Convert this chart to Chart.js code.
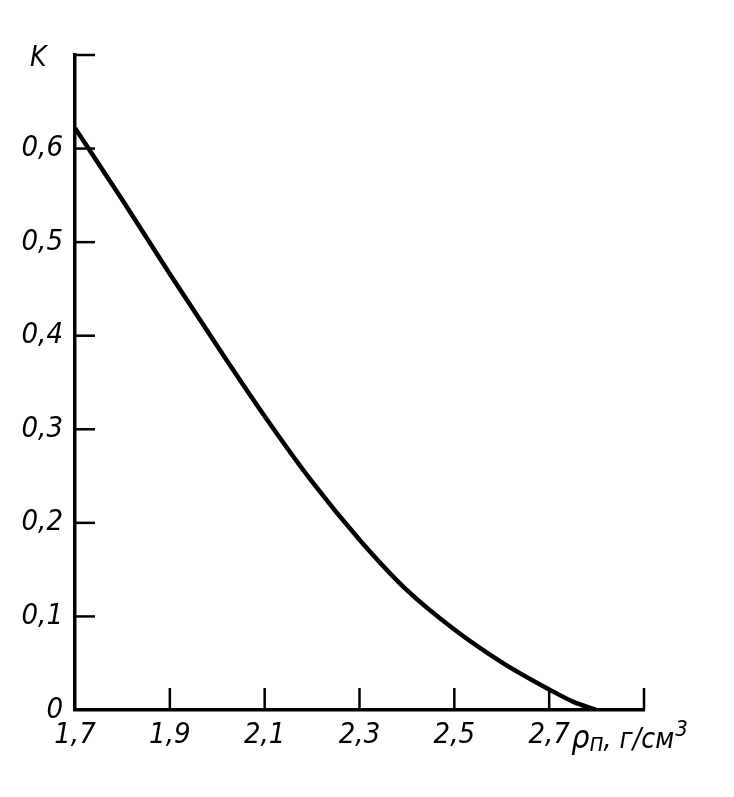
<!DOCTYPE html>
<html>
<head>
<meta charset="utf-8">
<script src="https://cdn.jsdelivr.net/npm/chart.js@4.4.0/dist/chart.umd.min.js"></script>
<style>
  body { margin: 0; background: #fff; }
  canvas { display: block; }
</style>
</head>
<body>
<canvas id="myChart" width="734" height="797"></canvas>
<script>
// данные
const density = [1.7, 1.8, 1.9, 2.0, 2.1, 2.2, 2.3, 2.4, 2.5, 2.6, 2.7, 2.75, 2.8];
const kValues = [0.622, 0.545, 0.466, 0.389, 0.314, 0.244, 0.182, 0.128, 0.086, 0.051, 0.022, 0.009, 0.0];
const xTicks = [1.7, 1.9, 2.1, 2.3, 2.5, 2.7, 2.9];
const yTicks = [0, 0.1, 0.2, 0.3, 0.4, 0.5, 0.6, 0.7];

const FONT = "'Liberation Sans Narrow', 'DejaVu Sans Condensed', 'DejaVu Sans', sans-serif";
const tickFont = { family: FONT, size: 29, style: 'italic' };

const points = density.map((d, i) => ({ x: d, y: kValues[i] }));

// засечки внутрь и подписи осей
const axisExtras = {
  id: 'axisExtras',
  afterDraw(chart) {
    const { ctx, scales: { x, y } } = chart;
    ctx.save();
    ctx.strokeStyle = '#000';
    ctx.lineWidth = 2.5;
    yTicks.slice(1).forEach(v => {
      const py = y.getPixelForValue(v);
      ctx.beginPath();
      ctx.moveTo(x.left, py);
      ctx.lineTo(x.left + 20, py);
      ctx.stroke();
    });
    xTicks.slice(1).forEach(v => {
      const px = x.getPixelForValue(v);
      ctx.beginPath();
      ctx.moveTo(px, y.bottom);
      ctx.lineTo(px, y.bottom - 22);
      ctx.stroke();
    });

    ctx.fillStyle = '#000';
    ctx.textBaseline = 'alphabetic';
    ctx.font = `italic 28px ${FONT}`;
    ctx.fillText('K', 30, 66);

    // ρп, г/см³
    let tx = x.getPixelForValue(2.7) + 22;
    const base = y.bottom + 38;
    ctx.font = `italic 32px ${FONT}`;
    ctx.fillText('ρ', tx, base);
    tx += ctx.measureText('ρ').width;
    ctx.font = `italic 24px ${FONT}`;
    ctx.fillText('п', tx, base + 3);
    tx += ctx.measureText('п').width;
    ctx.font = `italic 28px ${FONT}`;
    ctx.fillText(', г/см', tx, base);
    tx += ctx.measureText(', г/см').width + 1;
    ctx.font = `italic 22px ${FONT}`;
    ctx.fillText('3', tx, base - 12);
    ctx.restore();
  }
};

const config = {
  type: 'line',
  data: {
    datasets: [{
      data: points,
      borderColor: '#000',
      borderWidth: 4.5,
      pointRadius: 0,
      fill: false,
      cubicInterpolationMode: 'monotone'
    }]
  },
  options: {
    responsive: false,
    animation: false,
    layout: { padding: { left: 0, top: 55, right: 90, bottom: 0 } },
    plugins: { legend: { display: false }, tooltip: { enabled: false } },
    scales: {
      x: {
        type: 'linear',
        min: 1.7,
        max: 2.9,
        afterBuildTicks: s => { s.ticks = xTicks.map(v => ({ value: v })); },
        afterFit: s => { s.height = 87; },
        grid: { display: false, drawTicks: false },
        border: { display: true, color: '#000', width: 3.5 },
        ticks: {
          color: '#000',
          font: tickFont,
          padding: 8,
          maxRotation: 0,
          autoSkip: false,
          callback: v => (v >= 2.85 ? '' : v.toFixed(1).replace('.', ','))
        }
      },
      y: {
        type: 'linear',
        min: 0,
        max: 0.7,
        afterBuildTicks: s => { s.ticks = yTicks.map(v => ({ value: v })); },
        afterFit: s => { s.width = 75; },
        grid: { display: false, drawTicks: false },
        border: { display: true, color: '#000', width: 3.5 },
        ticks: {
          color: '#000',
          font: tickFont,
          padding: 12,
          autoSkip: false,
          callback: v => (v >= 0.65 ? '' : v === 0 ? '0' : v.toFixed(1).replace('.', ','))
        }
      }
    }
  },
  plugins: [axisExtras]
};

const myChart = new Chart(document.getElementById('myChart'), config);
</script>
</body>
</html>
